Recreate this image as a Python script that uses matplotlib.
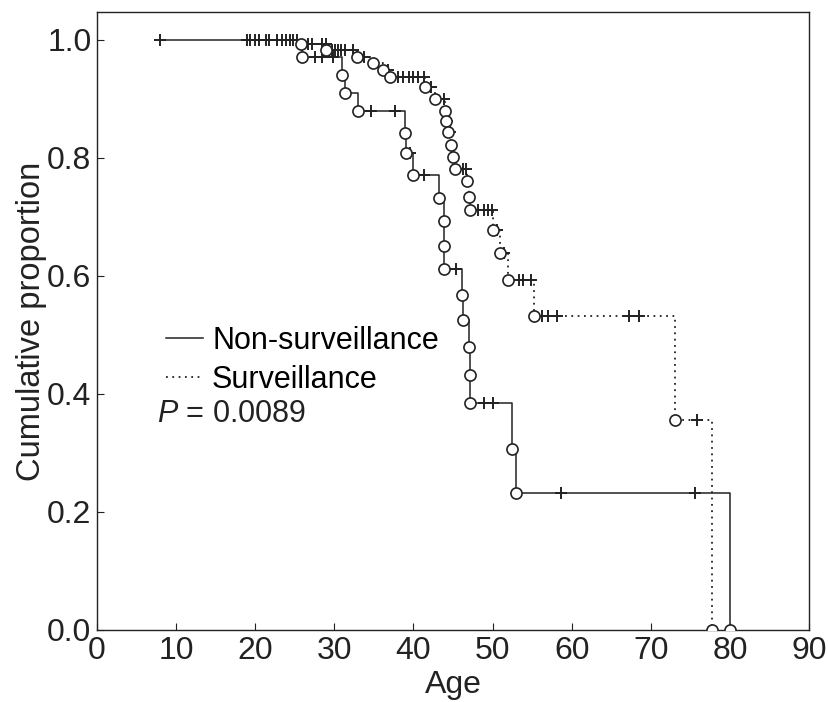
import numpy as np
import matplotlib
matplotlib.use("Agg")
import matplotlib.pyplot as plt
from matplotlib.lines import Line2D

plt.rcParams['font.family'] = ['Liberation Sans', 'DejaVu Sans']
plt.rcParams['mathtext.fontset'] = 'custom'
plt.rcParams['mathtext.it'] = 'Liberation Sans:italic'
plt.rcParams['mathtext.rm'] = 'Liberation Sans'

# Non-surveillance: event ages (circles) and survival after each event
non_event_age = [25.9, 31.0, 31.3, 33.0, 38.9, 39.0, 40.0, 43.2, 43.9, 43.9, 43.9,
                 46.1, 46.3, 47.0, 47.1, 47.2, 52.4, 53.0, 80.0]
non_event_surv = [0.971, 0.941, 0.910, 0.880, 0.842, 0.808, 0.771, 0.732, 0.692, 0.651,
                  0.612, 0.568, 0.525, 0.480, 0.432, 0.385, 0.307, 0.232, 0.0]
non_censor_age = [8.0, 19.4, 21.3, 22.7, 23.9, 24.8, 27.6, 28.5, 29.8, 34.6, 37.7,
                  39.6, 41.3, 45.4, 48.9, 50.0, 58.7, 75.6]

# Surveillance
sur_event_age = [25.8, 29.0, 32.9, 34.9, 36.1, 37.0, 41.5, 42.7, 44.0, 44.1, 44.3,
                 44.8, 45.0, 45.2, 46.8, 47.0, 47.2, 50.0, 50.9, 51.9, 55.2, 73.0, 77.7]
sur_event_surv = [0.992, 0.983, 0.971, 0.961, 0.949, 0.936, 0.919, 0.900, 0.880, 0.862,
                  0.843, 0.821, 0.802, 0.781, 0.760, 0.734, 0.712, 0.677, 0.639, 0.593,
                  0.532, 0.356, 0.0]
sur_censor_age = [18.9, 20.0, 20.5, 21.7, 23.4, 24.4, 25.3, 26.7, 27.2, 28.5, 28.9,
                  29.7, 30.1, 30.5, 30.9, 31.4, 32.3, 33.7, 36.8, 38.1, 38.7, 39.4,
                  40.0, 40.6, 41.3, 42.2, 43.9, 44.2, 44.6, 46.2, 46.6, 48.2, 48.9,
                  49.4, 49.9, 50.5, 51.5, 53.3, 53.9, 54.8, 56.3, 57.0, 58.1, 67.2,
                  68.5, 75.8]

p_text = "$P$ = 0.0089"
col = '#222222'


def km_draw(ax, ev_t, ev_s, cen_t, ls, lw):
    ev_t = np.array(ev_t)
    ev_s = np.array(ev_s)
    cen_t = np.array(cen_t)
    start = min(ev_t.min(), cen_t.min())
    x = np.concatenate([[start], ev_t])
    y = np.concatenate([[1.0], ev_s])
    ax.plot(x, y, drawstyle='steps-post', color=col, linestyle=ls, lw=lw, zorder=2)
    # censor marks sit on the curve level at their age
    k = np.searchsorted(ev_t, cen_t, side='right')
    cen_s = np.where(k == 0, 1.0, ev_s[np.maximum(k - 1, 0)])
    ax.plot(cen_t, cen_s, linestyle='none', marker='+', ms=9, mew=1.4,
            color=col, zorder=3)
    ax.plot(ev_t, ev_s, linestyle='none', marker='o', ms=8, mew=1.2,
            mfc='white', mec=col, zorder=4)


fig = plt.figure(figsize=(8.29, 7.02), dpi=100)
ax = fig.add_axes([0.117, 0.1026, 0.859, 0.8804])

km_draw(ax, non_event_age, non_event_surv, non_censor_age, '-', 1.1)
km_draw(ax, sur_event_age, sur_event_surv, sur_censor_age, (0, (1, 2.5)), 1.3)

ax.set_xlim(0, 90)
ax.set_ylim(0, 1.047)
ax.set_xticks(np.arange(0, 91, 10))
ax.set_yticks(np.arange(0, 1.01, 0.2))
ax.set_yticklabels([f"{v:.1f}" for v in np.arange(0, 1.01, 0.2)])
ax.tick_params(direction='in', length=5, width=0.8, labelsize=23, colors=col, pad=4)
for sp in ax.spines.values():
    sp.set_color(col)
    sp.set_linewidth(1.0)

ax.set_xlabel("Age", fontsize=23, color=col, labelpad=3)
ax.set_ylabel("Cumulative proportion", fontsize=23.5, color=col, labelpad=0)

handles = [Line2D([], [], color=col, lw=1.1, linestyle='-'),
           Line2D([], [], color=col, lw=1.3, linestyle=(0, (1, 2.5)))]
ax.legend(handles, ["Non-surveillance", "Surveillance"], loc='upper left',
          bbox_to_anchor=(0.08, 0.512), frameon=False, fontsize=22,
          handlelength=1.2, handletextpad=0.3, labelspacing=0.3, borderaxespad=0)
ax.text(0.084, 0.35, p_text, transform=ax.transAxes, fontsize=22, color=col,
        va='center', ha='left')

fig.savefig("out.png", dpi=100)
